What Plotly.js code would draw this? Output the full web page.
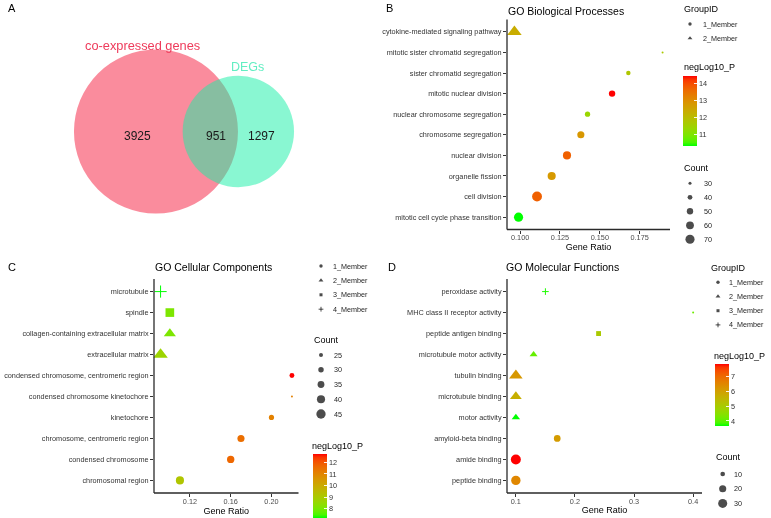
<!DOCTYPE html>
<html><head><meta charset="utf-8">
<script src="https://cdn.plot.ly/plotly-3.0.1.min.js"></script>
<style>html,body{margin:0;padding:0;background:#fff} #chart{will-change:transform}</style>
</head><body><div id="chart" style="width:771px;height:518px"></div>
<script>
// ---------- Panel A: Venn ----------
const vennSets = ["co-expressed genes", "DEGs"];
const vennOnly = [3925, 1297];
const vennBoth = 951;

// ---------- Panel B: GO Biological Processes (bottom to top) ----------
const bpTerms = ["mitotic cell cycle phase transition","cell division","organelle fission","nuclear division","chromosome segregation","nuclear chromosome segregation","mitotic nuclear division","sister chromatid segregation","mitotic sister chromatid segregation","cytokine-mediated signaling pathway"];
const bpRatio = [0.0990,0.1106,0.1198,0.1294,0.1381,0.1423,0.1577,0.1679,0.1894,0.0964];
const bpCount = [70,76,62,62,55,43,50,38,25,77];
const bpLogP  = [10.33,13.8,12.8,13.8,12.85,11.4,14.5,11.8,11.7,12.4];
const bpGroup = [1,1,1,1,1,1,1,1,1,2];

// ---------- Panel C: GO Cellular Components ----------
const ccTerms = ["chromosomal region","condensed chromosome","chromosome, centromeric region","kinetochore","condensed chromosome kinetochore","condensed chromosome, centromeric region","extracellular matrix","collagen-containing extracellular matrix","spindle","microtubule"];
const ccRatio = [0.1102,0.1600,0.1701,0.2000,0.2201,0.2201,0.0912,0.1003,0.1003,0.0912];
const ccCount = [40,37,36,29,19,28,48,41,47,42];
const ccLogP  = [9.2,11.7,11.55,11.1,11.1,12.74,8.7,8.1,8.1,7.23];
const ccGroup = [1,1,1,1,1,1,2,2,3,4];

// ---------- Panel D: GO Molecular Functions ----------
const mfTerms = ["peptide binding","amide binding","amyloid-beta binding","motor activity","microtubule binding","tubulin binding","microtubule motor activity","peptide antigen binding","MHC class II receptor activity","peroxidase activity"];
const mfRatio = [0.10,0.10,0.17,0.10,0.10,0.10,0.13,0.24,0.40,0.15];
const mfCount = [32,36,18,14,25,32,13,13,3,10];
const mfLogP  = [6.5,7.86,6.1,3.66,5.68,6.18,4.08,5.05,4.16,3.75];
const mfGroup = [1,1,1,2,2,2,2,3,1,4];

// ---------- Legends / ticks ----------
const groupLabels = ["1_Member","2_Member","3_Member","4_Member"];
const bpCountBreaks = [30,40,50,60,70];
const ccCountBreaks = [25,30,35,40,45];
const mfCountBreaks = [10,20,30];
const bpColorTicks = [11,12,13,14];
const ccColorTicks = [8,9,10,11,12];
const mfColorTicks = [4,5,6,7];
const bpXTicks = [0.1,0.125,0.15,0.175], bpXText = ["0.100","0.125","0.150","0.175"];
const ccXTicks = [0.12,0.16,0.20], ccXText = ["0.12","0.16","0.20"];
const mfXTicks = [0.1,0.2,0.3,0.4], mfXText = ["0.1","0.2","0.3","0.4"];
const panelTitles = ["GO Biological Processes","GO Cellular Components","GO Molecular Functions"];

// ---------- helpers ----------
const FONT = "Liberation Sans, Arial, sans-serif";
const W = 771, H = 518;
const px = x => x / W, py = y => 1 - y / H;

function s2l(c){c/=255;return c<=0.04045?c/12.92:Math.pow((c+0.055)/1.055,2.4);}
function l2s(c){c=c<=0.0031308?12.92*c:1.055*Math.pow(Math.max(c,0),1/2.4)-0.055;return Math.round(Math.max(0,Math.min(1,c))*255);}
function rgb2lab(rgb){const[R,G,B]=rgb.map(s2l);const X=(0.4124*R+0.3576*G+0.1805*B)/0.95047,Y=0.2126*R+0.7152*G+0.0722*B,Z=(0.0193*R+0.1192*G+0.9505*B)/1.08883;const f=t=>t>0.008856?Math.cbrt(t):7.787*t+16/116;return[116*f(Y)-16,500*(f(X)-f(Y)),200*(f(Y)-f(Z))];}
function lab2rgb(lab){const[L,a,b]=lab;const fy=(L+16)/116,fx=fy+a/500,fz=fy-b/200;const inv=t=>t*t*t>0.008856?t*t*t:(t-16/116)/7.787;const X=0.95047*inv(fx),Y=inv(fy),Z=1.08883*inv(fz);return[l2s(3.2406*X-1.5372*Y-0.4986*Z),l2s(-0.9689*X+1.8758*Y+0.0415*Z),l2s(0.0557*X-0.2040*Y+1.0570*Z)];}
function labScale(lo,hi,n){const a=rgb2lab(lo),b=rgb2lab(hi),out=[];for(let i=0;i<=n;i++){const t=i/n;const c=lab2rgb(a.map((v,k)=>v+(b[k]-v)*t));out.push([t,`rgb(${c[0]},${c[1]},${c[2]})`]);}return out;}
const CSCALE = labScale([0,255,0],[255,0,0],20);

function sizeMapper(counts){const lo=Math.sqrt(Math.min(...counts)),hi=Math.sqrt(Math.max(...counts));return c=>2+8*(Math.sqrt(c)-lo)/(hi-lo);}
const SYM = {1:'circle',2:'triangle-up',3:'square',4:'cross-thin-open'};
const SYMF = {1:1,2:1.26,3:0.886,4:1.01};

function panelTrace(terms, ratio, count, logp, group, xa, ya, ca){
  const sz = sizeMapper(count);
  return {type:'scatter', mode:'markers', x:ratio, y:terms, xaxis:xa, yaxis:ya,
    marker:{symbol:group.map(g=>SYM[g]), size:count.map((c,i)=>sz(c)*SYMF[group[i]]),
      color:logp, coloraxis:ca, line:{width:0}, opacity:1},
    hoverinfo:'skip', showlegend:false, cliponaxis:false};
}
function xAxis(dom, ratio, tv, tt, anchor){
  const lo=Math.min(...ratio), hi=Math.max(...ratio), pad=(hi-lo)*0.05;
  return {domain:[px(dom[0]),px(dom[1])], range:[lo-pad,hi+pad], anchor, showline:false,
    ticks:'outside', ticklen:3, tickwidth:1, tickcolor:'#333', tickvals:tv, ticktext:tt, ticklabelstandoff:-2,
    tickfont:{size:7.3,color:'#4d4d4d',family:FONT}, showgrid:false, zeroline:false, fixedrange:true,
    title:{text:'Gene Ratio', font:{size:9,color:'#000',family:FONT}, standoff:1}};
}
function yAxis(dom, terms, anchor){
  return {domain:[py(dom[1]),py(dom[0])], type:'category', categoryorder:'array', categoryarray:terms,
    range:[-0.6, terms.length-0.4], anchor, showline:false,
    ticks:'outside', ticklen:3, tickwidth:1, tickcolor:'#333', tickfont:{size:7.3,color:'#333',family:FONT},
    showgrid:false, zeroline:false, fixedrange:true};
}
function colorAxis(vals, ticks, L, top, bottom){
  return {colorscale:CSCALE, cmin:Math.min(...vals), cmax:Math.max(...vals), showscale:true,
    colorbar:{x:px(L), xanchor:'left', xref:'paper', xpad:0, ypad:0, y:py((top+bottom)/2), yanchor:'middle', yref:'paper',
      len:bottom-top, lenmode:'pixels', thickness:14, thicknessmode:'pixels', outlinewidth:0, borderwidth:0,
      ticks:'inside', ticklen:3, tickwidth:1, tickcolor:'rgba(255,255,255,0.9)', tickvals:ticks,
      tickfont:{size:7.3,color:'#333',family:FONT}}};
}

const traces = [];
const annotations = [];
const shapes = [];
function ann(text, x, y, size, color, xanchor, extra){
  annotations.push(Object.assign({text, x:px(x), y:py(y), xref:'paper', yref:'paper', showarrow:false,
    xanchor:xanchor||'left', yanchor:'middle', font:{size, color:color||'#000', family:FONT}, borderpad:0}, extra||{}));
}

// ---------- Venn (pixel-mapped overlay axis x5/y5) ----------
const n1 = vennOnly[0]+vennBoth, n2 = vennOnly[1]+vennBoth;
const R1 = 82, R2 = R1*Math.sqrt(n2/n1);
function lensArea(d,a,b){
  const t1=a*a*Math.acos((d*d+a*a-b*b)/(2*d*a)), t2=b*b*Math.acos((d*d+b*b-a*a)/(2*d*b));
  const t3=0.5*Math.sqrt((-d+a+b)*(d+a-b)*(d-a+b)*(d+a+b)); return t1+t2-t3;
}
const targetArea = vennBoth/n1*Math.PI*R1*R1;
let dlo=Math.abs(R1-R2)+1e-6, dhi=R1+R2-1e-6;
for(let i=0;i<60;i++){const m=(dlo+dhi)/2; if(lensArea(m,R1,R2)>targetArea) dlo=m; else dhi=m;}
const dist=(dlo+dhi)/2;
const vcx=184, vcy=131.5;
const c1x = vcx-(R1+dist+R2)/2+R1, c2x = c1x+dist;
shapes.push({type:'circle', xref:'x5', yref:'y5', x0:c1x-R1, x1:c1x+R1, y0:vcy-R1, y1:vcy+R1, fillcolor:'rgba(245,25,60,0.5)', line:{width:0}, layer:'below'});
shapes.push({type:'circle', xref:'x5', yref:'y5', x0:c2x-R2, x1:c2x+R2, y0:vcy-R2, y1:vcy+R2, fillcolor:'rgba(20,240,165,0.5)', line:{width:0}, layer:'below'});
ann(vennSets[0], 142, 45, 12.8, '#EE3B5B', 'center');
ann(vennSets[1], 247, 67, 12.5, '#62EEC2', 'center');
ann(String(vennOnly[0]), 137, 136, 12, '#1a1a1a', 'center');
ann(String(vennBoth), 216, 136, 12, '#1a1a1a', 'center');
ann(String(vennOnly[1]), 261, 136, 12, '#1a1a1a', 'center');

// ---------- panels ----------
traces.push(panelTrace(bpTerms,bpRatio,bpCount,bpLogP,bpGroup,'x2','y2','coloraxis'));
traces.push(panelTrace(ccTerms,ccRatio,ccCount,ccLogP,ccGroup,'x3','y3','coloraxis2'));
traces.push(panelTrace(mfTerms,mfRatio,mfCount,mfLogP,mfGroup,'x4','y4','coloraxis3'));
// axis lines (theme_classic style)
['2','3','4'].forEach(k=>{
  shapes.push({type:'line', xref:`x${k} domain`, yref:`y${k} domain`, x0:0, x1:1, y0:0, y1:0, line:{color:'#2a2a2a', width:1.3}});
  shapes.push({type:'line', xref:`x${k} domain`, yref:`y${k} domain`, x0:0, x1:0, y0:0, y1:1, line:{color:'#2a2a2a', width:1.3}});
});

// panel letters + titles
ann('A', 7, 8, 11, '#000'); ann('B', 385, 8, 11, '#000'); ann('C', 7, 267, 11, '#000'); ann('D', 387, 267, 11, '#000');
ann(panelTitles[0], 507, 11, 10.5, '#000');
ann(panelTitles[1], 154, 266.5, 10.5, '#000');
ann(panelTitles[2], 505, 266.5, 10.5, '#000');

// ---------- legends ----------
function groupLegend(n, keyX, labX, y0, dy){
  const ids=[1,2,3,4].slice(0,n);
  traces.push({type:'scatter', mode:'markers', x:ids.map(()=>keyX), y:ids.map((g,i)=>y0+i*dy), xaxis:'x5', yaxis:'y5',
    marker:{symbol:ids.map(g=>SYM[g]), size:ids.map(g=>3.4*SYMF[g]), color:'#000', line:{width:0}}, hoverinfo:'skip', showlegend:false});
  ids.forEach((g,i)=>ann(groupLabels[i], labX, y0+i*dy, 7.2, '#222'));
}
function countLegend(breaks, counts, keyX, labX, y0, dy){
  const sz=sizeMapper(counts);
  traces.push({type:'scatter', mode:'markers', x:breaks.map(()=>keyX), y:breaks.map((b,i)=>y0+i*dy), xaxis:'x5', yaxis:'y5',
    marker:{symbol:'circle', size:breaks.map(b=>sz(b)), color:'#000', line:{width:0}}, hoverinfo:'skip', showlegend:false});
  breaks.forEach((b,i)=>ann(String(b), labX, y0+i*dy, 7.2, '#222'));
}
// B
ann('GroupID', 683, 9, 9, '#000');
groupLegend(2, 690, 702, 24, 14.3);
ann('negLog10_P', 683, 66.7, 9, '#000');
ann('Count', 683, 167.7, 9, '#000');
countLegend(bpCountBreaks, bpCount, 690, 703, 183.3, 14);
// C
groupLegend(4, 321, 332, 266, 14.4);
ann('Count', 312.5, 339.5, 9, '#000');
countLegend(ccCountBreaks, ccCount, 321, 332.5, 355, 14.75);
ann('negLog10_P', 311, 445.7, 9, '#000');
// D
ann('GroupID', 710, 268, 9, '#000');
groupLegend(4, 718, 728.3, 282.3, 14.2);
ann('negLog10_P', 713, 355.7, 9, '#000');
ann('Count', 715, 456.7, 9, '#000');
countLegend(mfCountBreaks, mfCount, 722.7, 733, 474, 14.7);

const layout = {
  width:W, height:H, margin:{l:0,r:0,t:0,b:0}, paper_bgcolor:'#fff', plot_bgcolor:'rgba(0,0,0,0)',
  showlegend:false, font:{family:FONT, color:'#000'},
  xaxis2:xAxis([507,670], bpRatio, bpXTicks, bpXText, 'y2'),
  yaxis2:yAxis([19.5,229.5], bpTerms, 'x2'),
  xaxis3:xAxis([154,298.5], ccRatio, ccXTicks, ccXText, 'y3'),
  yaxis3:yAxis([279,493], ccTerms, 'x3'),
  xaxis4:xAxis([507,702], mfRatio, mfXTicks, mfXText, 'y4'),
  yaxis4:yAxis([279,493], mfTerms, 'x4'),
  xaxis5:{domain:[0,1], range:[0,W], visible:false, fixedrange:true, anchor:'y5'},
  yaxis5:{domain:[0,1], range:[H,0], visible:false, fixedrange:true, anchor:'x5'},
  coloraxis:colorAxis(bpLogP, bpColorTicks, 683, 75.3, 145.7),
  coloraxis2:colorAxis(ccLogP, ccColorTicks, 313, 454, 517.5),
  coloraxis3:colorAxis(mfLogP, mfColorTicks, 715, 364, 426),
  annotations, shapes
};
Plotly.newPlot('chart', traces, layout, {staticPlot:true, displayModeBar:false});
</script></body></html>
